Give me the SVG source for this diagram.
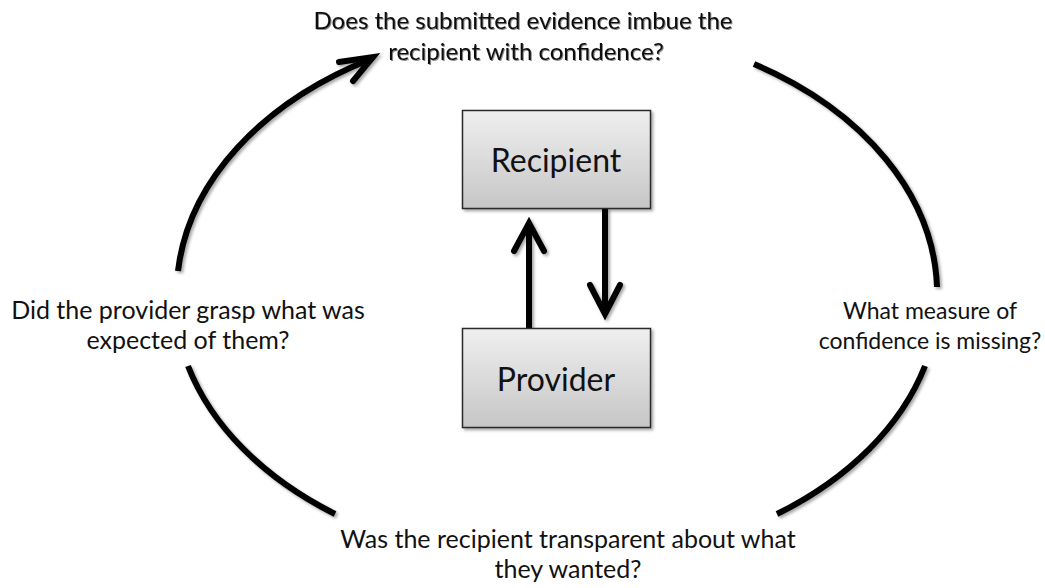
<svg xmlns="http://www.w3.org/2000/svg" width="1045" height="588" viewBox="0 0 1045 588">
  <defs>
    <linearGradient id="boxFill" x1="0" y1="0" x2="0" y2="1">
      <stop offset="0" stop-color="#efefef"/>
      <stop offset="1" stop-color="#c6c6c6"/>
    </linearGradient>
    <filter id="shadow" x="-10%" y="-10%" width="130%" height="130%">
      <feDropShadow dx="2" dy="2" stdDeviation="1.5" flood-color="#000" flood-opacity="0.35"/>
    </filter>
    <filter id="textShadow" x="-5%" y="-20%" width="110%" height="150%">
      <feDropShadow dx="1" dy="1" stdDeviation="0.6" flood-color="#000" flood-opacity="0.45"/>
    </filter>
  </defs>
  <style>
    .label { font-family: Lato, "Open Sans", "Liberation Sans", sans-serif; font-size: 25px; fill: #111; text-anchor: middle; }
    .top { font-size: 24px; }
    .side { font-size: 23px; }
    .boxText { font-family: Lato, "Open Sans", "Liberation Sans", sans-serif; font-size: 32px; fill: #111; text-anchor: middle; }
    .box { fill: url(#boxFill); stroke: #2a2a2a; stroke-width: 1.5; }
    .cycle { fill: none; stroke: #000; stroke-width: 6; stroke-linecap: butt; }
    .head { fill: none; stroke: #000; stroke-width: 6; stroke-linecap: round; stroke-linejoin: miter; }
  </style>
  <rect width="1045" height="588" fill="#fff"/>

  <!-- outer cycle of questions and the exchange arrows between the two parties -->
  <g id="connectors" filter="url(#shadow)">
    <path class="cycle" d="M 178,271 A 381 269 0 0 1 371,59"/>
    <polyline class="head" points="339,62 373,57 353,81"/>
    <path class="cycle" d="M 754,64 A 381 269 0 0 1 937,287"/>
    <path class="cycle" d="M 925,366 A 381 269 0 0 1 777,514"/>
    <path class="cycle" d="M 335,514 A 381 269 0 0 1 188,366"/>

    <line class="cycle" x1="529" y1="328" x2="529" y2="224"/>
    <polyline class="head" points="514,251 529,223 544,251"/>
    <line class="cycle" x1="605" y1="208" x2="605" y2="313"/>
    <polyline class="head" points="590,285 605,314 620,285"/>
  </g>

  <g id="recipient">
    <rect class="box" x="462.5" y="110.5" width="188" height="98" filter="url(#shadow)"/>
    <text class="boxText" x="556" y="172">Recipient</text>
  </g>

  <g id="provider">
    <rect class="box" x="462.5" y="328.5" width="188" height="99" filter="url(#shadow)"/>
    <text class="boxText" x="556" y="391">Provider</text>
  </g>

  <g id="q-evidence" filter="url(#textShadow)">
    <text class="label top" x="523" y="29">Does the submitted evidence imbue the</text>
    <text class="label top" x="526" y="60">recipient with confidence?</text>
  </g>

  <g id="q-missing">
    <text class="label side" x="930" y="319">What measure of</text>
    <text class="label side" x="930" y="349">confidence is missing?</text>
  </g>

  <g id="q-transparent">
    <text class="label" x="568" y="548">Was the recipient transparent about what</text>
    <text class="label" x="568" y="578">they wanted?</text>
  </g>

  <g id="q-grasp">
    <text class="label" x="188" y="319">Did the provider grasp what was</text>
    <text class="label" x="188" y="349">expected of them?</text>
  </g>
</svg>
